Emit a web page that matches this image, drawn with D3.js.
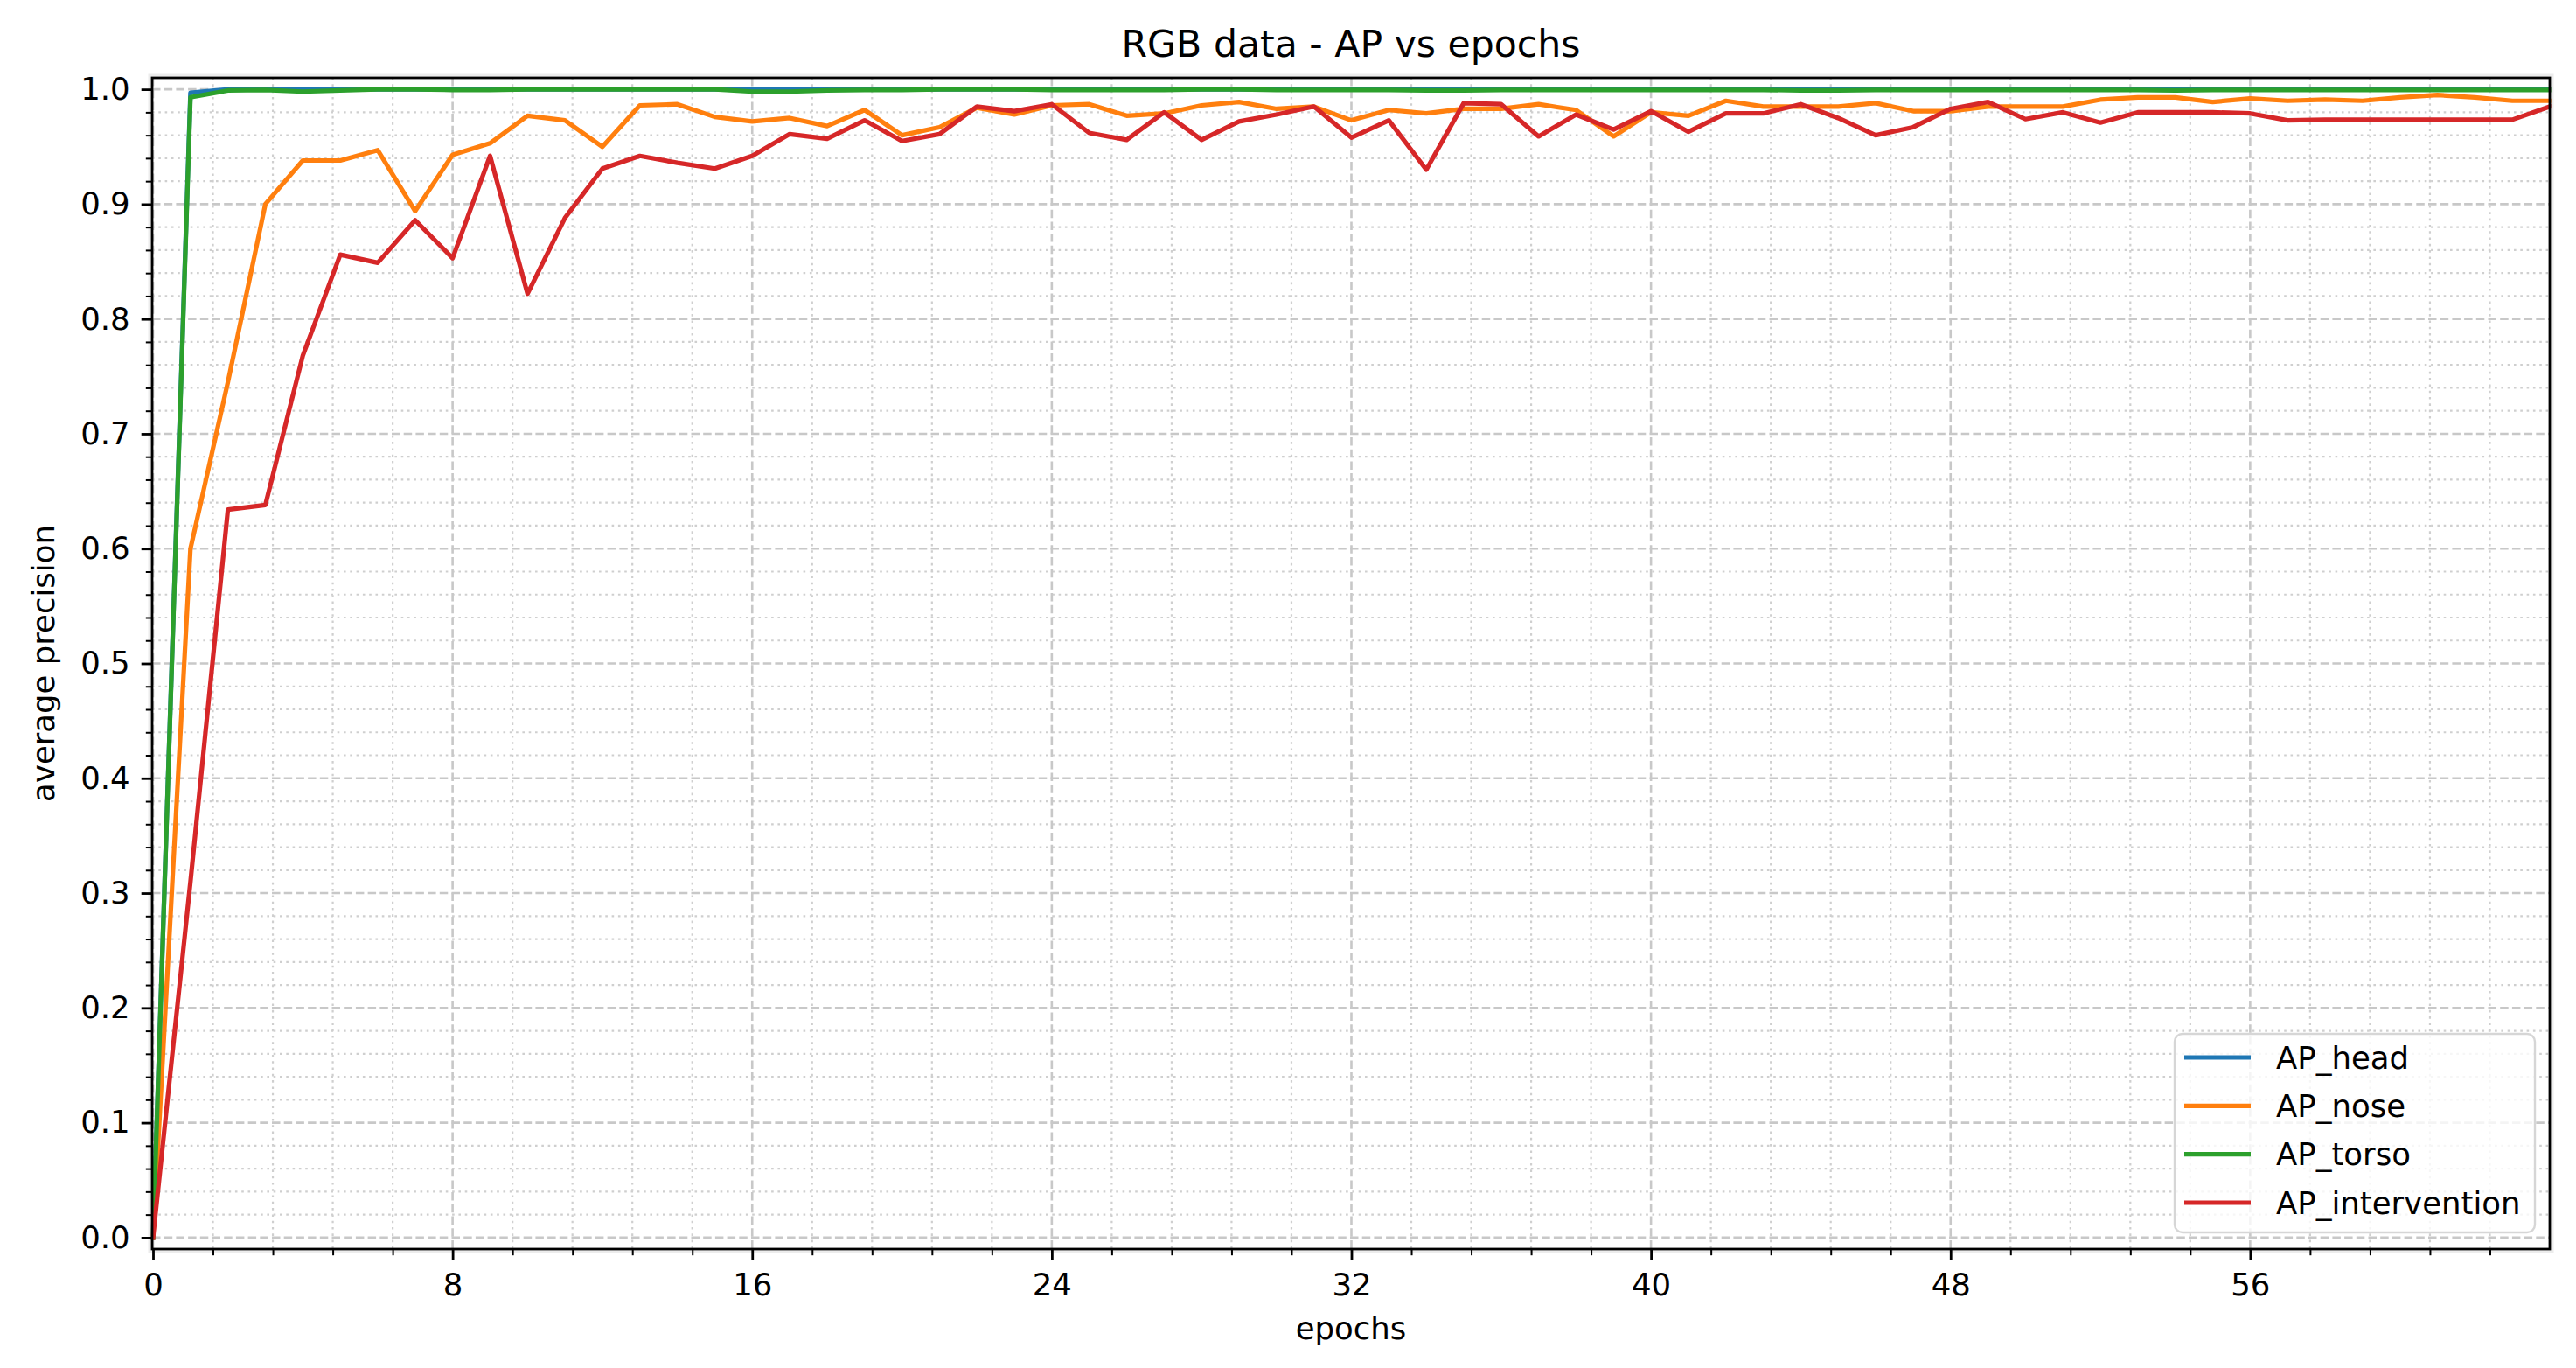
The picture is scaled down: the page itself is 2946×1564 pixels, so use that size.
<!DOCTYPE html>
<html>
<head>
<meta charset="utf-8">
<script src="https://cdn.jsdelivr.net/npm/d3@7"></script>
<style>
  html, body { margin: 0; padding: 0; background: #ffffff; }
  svg { display: block; }
  text { font-family: "DejaVu Sans", sans-serif; fill: #000; }
</style>
</head>
<body>
<svg id="chart" width="2946" height="1564"></svg>
<script>
// ---------------- data ----------------
const epochs = d3.range(0, 65);

const seriesNames = ["AP_head", "AP_nose", "AP_torso", "AP_intervention"];
const seriesColors = ["#1f77b4", "#ff7f0e", "#2ca02c", "#d62728"];

const apHead = [
  0.000, 0.997, 1.000, 1.000, 1.000, 1.000, 1.000, 1.000, 1.000, 1.000,
  1.000, 1.000, 1.000, 1.000, 1.000, 1.000, 1.000, 1.000, 1.000, 1.000,
  1.000, 1.000, 1.000, 1.000, 1.000, 1.000, 1.000, 1.000, 1.000, 1.000,
  1.000, 1.000, 1.000, 1.000, 1.000, 1.000, 1.000, 1.000, 1.000, 1.000,
  1.000, 1.000, 1.000, 1.000, 1.000, 1.000, 1.000, 1.000, 1.000, 1.000,
  1.000, 1.000, 1.000, 1.000, 1.000, 1.000, 1.000, 1.000, 1.000, 1.000,
  1.000, 1.000, 1.000, 1.000, 1.000
];

const apNose = [
  0.000, 0.600, 0.745, 0.900, 0.938, 0.938, 0.947, 0.894, 0.943, 0.953,
  0.977, 0.973, 0.950, 0.986, 0.987, 0.976, 0.972, 0.975, 0.968, 0.982,
  0.960, 0.967, 0.984, 0.978, 0.986, 0.987, 0.977, 0.979, 0.986, 0.989,
  0.983, 0.985, 0.973, 0.982, 0.979, 0.983, 0.983, 0.987, 0.982, 0.959,
  0.980, 0.977, 0.990, 0.985, 0.985, 0.985, 0.988, 0.981, 0.981, 0.985,
  0.985, 0.985, 0.991, 0.993, 0.993, 0.989, 0.992, 0.990, 0.991, 0.990,
  0.993, 0.995, 0.993, 0.990, 0.990
];

const apTorso = [
  0.000, 0.993, 0.999, 0.9995, 0.998, 0.999, 1.000, 1.000, 0.9995, 0.9995,
  1.000, 1.000, 1.000, 1.000, 1.000, 1.000, 0.998, 0.998, 0.999, 0.9995,
  0.9995, 1.000, 1.000, 1.000, 0.9995, 0.9995, 0.9995, 0.9995, 1.000, 1.000,
  0.9995, 0.9995, 0.9995, 0.9995, 0.999, 0.999, 0.9995, 0.9995, 0.9995, 0.9995,
  0.9995, 0.9995, 0.9995, 0.9995, 0.999, 0.999, 0.9995, 0.9995, 0.9995, 0.9995,
  0.9995, 0.9995, 0.9995, 0.9995, 0.999, 0.9995, 0.9995, 0.9995, 0.9995, 0.9995,
  0.9995, 0.9995, 0.9995, 0.9995, 0.9995
];

const apIntervention = [
  0.000, 0.310, 0.634, 0.638, 0.768, 0.856, 0.849, 0.886, 0.853, 0.942,
  0.822, 0.888, 0.931, 0.942, 0.936, 0.931, 0.942, 0.961, 0.957, 0.973,
  0.955, 0.961, 0.985, 0.981, 0.987, 0.962, 0.956, 0.980, 0.956, 0.972,
  0.978, 0.985, 0.958, 0.973, 0.930, 0.988, 0.987, 0.959, 0.978, 0.965,
  0.981, 0.963, 0.979, 0.979, 0.987, 0.975, 0.960, 0.967, 0.983, 0.989,
  0.974, 0.980, 0.971, 0.980, 0.980, 0.980, 0.979, 0.973, 0.9735, 0.9735,
  0.9735, 0.9735, 0.9735, 0.9735, 0.985
];

const xMajorTicks = [0, 8, 16, 24, 32, 40, 48, 56];
const yMajorTicks = [0.0, 0.1, 0.2, 0.3, 0.4, 0.5, 0.6, 0.7, 0.8, 0.9, 1.0];

const titleText = "RGB data - AP vs epochs";
const xLabelText = "epochs";
const yLabelText = "average precision";

// ---------------- layout ----------------
const W = 2946, H = 1564;
const L = 174, R = 2916, T = 89, B = 1428;
const FONT = 35.5, TITLE_FONT = 42.6;

const svg = d3.select("#chart");
svg.append("rect").attr("width", W).attr("height", H).attr("fill", "#fff");

const x = d3.scaleLinear().domain([0, 64]).range([175, R]);
const y = d3.scaleLinear().domain([-0.01, 1.01]).range([B, T]);

// minor tick positions
const xMinor = d3.range(0, 64.001, 1.6).map(v => +v.toFixed(4))
  .filter(v => xMajorTicks.every(m => Math.abs(m - v) > 1e-6) && v < 63.9);
const yMinor = d3.range(0, 1.0001, 0.02).map(v => +v.toFixed(4))
  .filter(v => yMajorTicks.every(m => Math.abs(m - v) > 1e-6));

// ---------------- grid ----------------
const grid = svg.append("g");
grid.selectAll(".gxm").data(xMinor).join("line")
  .attr("x1", d => x(d)).attr("x2", d => x(d)).attr("y1", T).attr("y2", B)
  .attr("stroke", "#cfcfcf").attr("stroke-width", 2.2).attr("stroke-dasharray", "2.6,4.7");
grid.selectAll(".gym").data(yMinor).join("line")
  .attr("x1", L).attr("x2", R).attr("y1", d => y(d)).attr("y2", d => y(d))
  .attr("stroke", "#cfcfcf").attr("stroke-width", 2.2).attr("stroke-dasharray", "2.6,4.7");
grid.selectAll(".gxM").data(xMajorTicks).join("line")
  .attr("x1", d => x(d)).attr("x2", d => x(d)).attr("y1", T).attr("y2", B)
  .attr("stroke", "#c8c8c8").attr("stroke-width", 2.6).attr("stroke-dasharray", "9.5,4.2");
grid.selectAll(".gyM").data(yMajorTicks).join("line")
  .attr("x1", L).attr("x2", R).attr("y1", d => y(d)).attr("y2", d => y(d))
  .attr("stroke", "#c8c8c8").attr("stroke-width", 2.6).attr("stroke-dasharray", "9.5,4.2");

// ---------------- lines ----------------
const allSeries = [apHead, apNose, apTorso, apIntervention];
const line = d3.line().x((d, i) => x(epochs[i])).y(d => y(d));
const plot = svg.append("g");
allSeries.forEach((vals, k) => {
  plot.append("path").datum(vals)
    .attr("d", line)
    .attr("fill", "none")
    .attr("stroke", seriesColors[k])
    .attr("stroke-width", 5.2)
    .attr("stroke-linejoin", "round")
    .attr("stroke-linecap", "square");
});

// ---------------- frame ----------------
svg.append("rect").attr("x", L - 3).attr("y", T - 3).attr("width", R - L + 6).attr("height", B - T + 6)
  .attr("fill", "none").attr("stroke", "#ececec").attr("stroke-width", 3);
svg.append("rect").attr("x", L).attr("y", T).attr("width", R - L).attr("height", B - T)
  .attr("fill", "none").attr("stroke", "#000").attr("stroke-width", 2.8);

// ---------------- axes ----------------
const xAxis = d3.axisBottom(x).tickValues(xMajorTicks).tickFormat(d3.format("d"))
  .tickSize(12.3).tickPadding(15);
const gx = svg.append("g").attr("transform", `translate(0,${B})`).call(xAxis);
const xAxisMinor = d3.axisBottom(x).tickValues(xMinor).tickFormat("").tickSize(7.2);
const gxm = svg.append("g").attr("transform", `translate(0,${B})`).call(xAxisMinor);

const yAxis = d3.axisLeft(y).tickValues(yMajorTicks).tickFormat(d3.format(".1f"))
  .tickSize(12.3).tickPadding(13);
const gy = svg.append("g").attr("transform", `translate(${L},0)`).call(yAxis);
const yAxisMinor = d3.axisLeft(y).tickValues(yMinor).tickFormat("").tickSize(7.2);
const gym = svg.append("g").attr("transform", `translate(${L},0)`).call(yAxisMinor);

[gx, gxm, gy, gym].forEach(g => {
  g.select(".domain").remove();
  g.selectAll("line").attr("stroke", "#000").attr("stroke-width", 2.8);
  g.selectAll("text").attr("font-size", FONT).attr("font-family", "DejaVu Sans").attr("fill", "#000");
});
gxm.selectAll("line").attr("stroke-width", 2.0);
gym.selectAll("line").attr("stroke-width", 2.0);

// ---------------- labels ----------------
svg.append("text").attr("x", (L + R) / 2).attr("y", 65)
  .attr("text-anchor", "middle").attr("font-size", TITLE_FONT).text(titleText);
svg.append("text").attr("x", (L + R) / 2).attr("y", 1531)
  .attr("text-anchor", "middle").attr("font-size", FONT).text(xLabelText);
svg.append("text").attr("transform", `translate(62,${(T + B) / 2}) rotate(-90)`)
  .attr("text-anchor", "middle").attr("font-size", FONT).text(yLabelText);

// ---------------- legend ----------------
const lg = svg.append("g");
lg.append("rect").attr("x", 2487).attr("y", 1182).attr("width", 412).attr("height", 227)
  .attr("rx", 9).attr("ry", 9)
  .attr("fill", "#fff").attr("fill-opacity", 0.8)
  .attr("stroke", "#d6d6d6").attr("stroke-width", 2.4);
const rowY = d3.scalePoint().domain(seriesNames).range([1209, 1375]);
seriesNames.forEach((name, k) => {
  const yy = rowY(name);
  lg.append("line").attr("x1", 2498).attr("x2", 2574).attr("y1", yy).attr("y2", yy)
    .attr("stroke", seriesColors[k]).attr("stroke-width", 5.2);
  lg.append("text").attr("x", 2603).attr("y", yy).attr("dy", "0.36em")
    .attr("font-size", FONT).text(name);
});
</script>
</body>
</html>
